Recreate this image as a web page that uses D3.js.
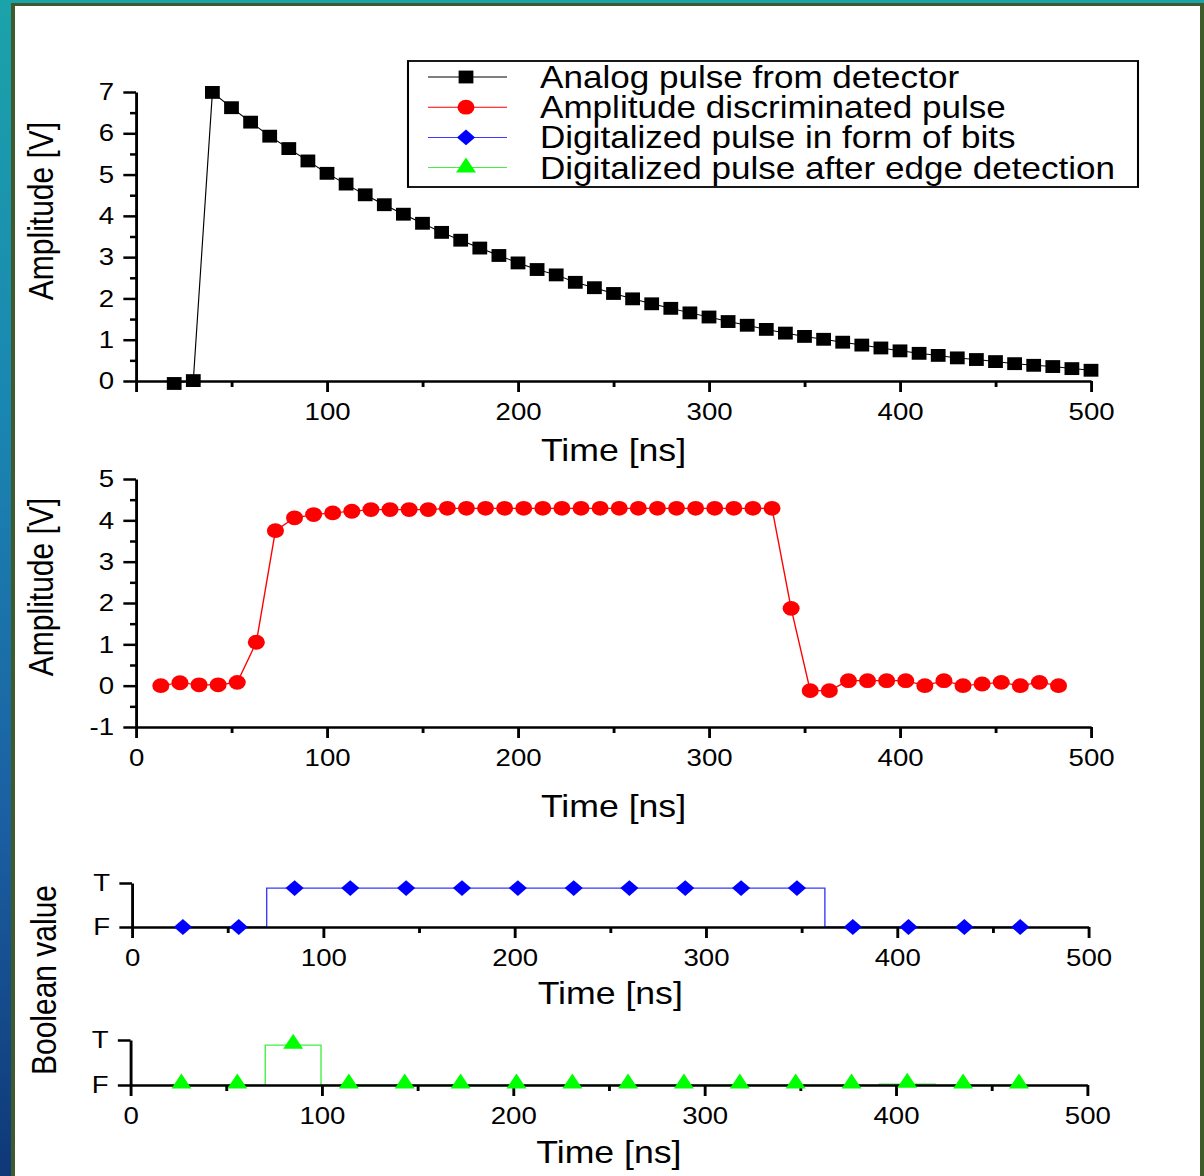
<!DOCTYPE html>
<html>
<head>
<meta charset="utf-8">
<script src="https://cdn.jsdelivr.net/npm/d3@7"></script>
<style>
  html, body { margin: 0; padding: 0; background: #fff; }
  svg { display: block; font-family: "Liberation Sans", Arial, sans-serif; }
</style>
</head>
<body>
<script>
// Data
const analogTime = [20, 30, 40, 50, 60, 70, 80, 90, 100, 110, 120, 130, 140, 150, 160, 170, 180, 190, 200,
  210, 220, 230, 240, 250, 260, 270, 280, 290, 300, 310, 320, 330, 340, 350, 360, 370, 380, 390, 400,
  410, 420, 430, 440, 450, 460, 470, 480, 490, 500];
const analogAmp = [-0.06, 0.01, 6.99, 6.62, 6.27, 5.93, 5.63, 5.33, 5.03, 4.77, 4.51, 4.27, 4.04, 3.82, 3.60, 3.41, 3.22, 3.04, 2.86,
  2.70, 2.57, 2.39, 2.26, 2.12, 1.99, 1.87, 1.76, 1.65, 1.55, 1.44, 1.35, 1.25, 1.16, 1.08, 1.01, 0.94, 0.87, 0.80, 0.73,
  0.67, 0.62, 0.56, 0.52, 0.47, 0.42, 0.38, 0.35, 0.30, 0.26];

const discTime = [13, 23, 33, 43, 53, 63, 73, 83, 93, 103, 113, 123, 133, 143, 153, 163, 173, 183, 193, 203,
  213, 223, 233, 243, 253, 263, 273, 283, 293, 303, 313, 323, 333, 343, 353, 363, 373, 383, 393, 403,
  413, 423, 433, 443, 453, 463, 473, 483];
const discAmp = [0.00, 0.07, 0.02, 0.02, 0.08, 1.05, 3.75, 4.06, 4.14, 4.18, 4.22, 4.26, 4.26, 4.26, 4.26, 4.29, 4.29, 4.29, 4.29, 4.29,
  4.29, 4.29, 4.29, 4.29, 4.29, 4.29, 4.29, 4.29, 4.29, 4.29, 4.29, 4.29, 4.29, 1.87, -0.12, -0.12, 0.12, 0.12, 0.12, 0.12,
  0.00, 0.12, 0.00, 0.04, 0.08, 0.00, 0.08, 0.00];

const bitTime = [26.6, 55.8, 85.0, 114.1, 143.3, 172.5, 201.7, 230.9, 260.0, 289.2, 318.4, 347.6, 376.8, 405.9, 435.1, 464.3];
const bitValue = [0, 0, 1, 1, 1, 1, 1, 1, 1, 1, 1, 1, 0, 0, 0, 0];
const edgeValue = [0, 0, 1, 0, 0, 0, 0, 0, 0, 0, 0, 0, 0, 0.02, 0, 0];

const timeMajor = [0, 100, 200, 300, 400, 500];
const timeMinor = [50, 150, 250, 350, 450];
const amp1Major = [0, 1, 2, 3, 4, 5, 6, 7];
const amp1Minor = [0.5, 1.5, 2.5, 3.5, 4.5, 5.5, 6.5];
const amp2Major = [-1, 0, 1, 2, 3, 4, 5];
const amp2Minor = [-0.5, 0.5, 1.5, 2.5, 3.5, 4.5];
const boolTicks = [0, 1.13];
const boolLabels = ['F', 'T'];

const legendLabels = [
  'Analog pulse from detector',
  'Amplitude discriminated pulse',
  'Digitalized pulse in form of bits',
  'Digitalized pulse after edge detection'
];

// The source figure is stretched horizontally; draw in a narrower space and scale x
const SX = 1.15;
const W = 1204, H = 1176;
const vx = r => r / SX;

const svg = d3.select('body').append('svg')
  .attr('width', W)
  .attr('height', H);

// Slide background + frame
const defs = svg.append('defs');
const grad = defs.append('linearGradient')
  .attr('id', 'bg')
  .attr('x1', 0).attr('y1', 0).attr('x2', 0).attr('y2', 1);
[['0%', '#1ba3aa'], ['35%', '#1a86b2'], ['70%', '#1b5fa2'], ['100%', '#0f3877']].forEach(([o, c]) => {
  grad.append('stop').attr('offset', o).attr('stop-color', c);
});
svg.append('rect').attr('width', W).attr('height', H).attr('fill', 'url(#bg)');
svg.append('rect').attr('x', 11).attr('y', 3).attr('width', W - 11).attr('height', H).attr('fill', '#3f5a2b');
svg.append('rect').attr('x', 15).attr('y', 6).attr('width', 1200 - 15).attr('height', H).attr('fill', '#ffffff');

const root = svg.append('g').attr('transform', `scale(${SX},1)`);

function styleAxis(g) {
  g.selectAll('path.domain').attr('stroke', '#000').attr('stroke-width', 2.5);
  g.selectAll('.tick line').attr('stroke', '#000').attr('stroke-width', 2.5);
  g.selectAll('.tick text').attr('fill', '#000').attr('font-size', '24px')
    .attr('font-family', '"Liberation Sans", Arial, sans-serif');
}

// Draws bottom + left axes and titles for one panel
function drawAxes(p) {
  const g = root.append('g');
  const y0 = p.y.range()[0];
  const x0 = p.x.range()[0];

  // minor x ticks
  g.append('g').attr('transform', `translate(0,${y0})`)
    .call(d3.axisBottom(p.x).tickValues(timeMinor).tickSize(6).tickSizeOuter(0).tickFormat(''))
    .call(a => a.select('.domain').remove())
    .call(styleAxis);
  // major x ticks
  g.append('g').attr('transform', `translate(0,${y0})`)
    .call(d3.axisBottom(p.x).tickValues(timeMajor).tickSize(11).tickSizeOuter(0).tickPadding(11)
      .tickFormat(d => (p.hideZero && d === 0) ? '' : d))
    .call(styleAxis);

  if (p.yMinor) {
    g.append('g').attr('transform', `translate(${x0},0)`)
      .call(d3.axisLeft(p.y).tickValues(p.yMinor).tickSize(5.2).tickSizeOuter(0).tickFormat(''))
      .call(a => a.select('.domain').remove())
      .call(styleAxis);
  }
  g.append('g').attr('transform', `translate(${x0},0)`)
    .call(d3.axisLeft(p.y).tickValues(p.yMajor).tickSize(11).tickSizeOuter(0).tickPadding(8)
      .tickFormat(p.yFormat || (d => d)))
    .call(styleAxis);

  g.append('text')
    .attr('x', (p.x.range()[0] + p.x.range()[1]) / 2)
    .attr('y', p.titleY)
    .attr('text-anchor', 'middle')
    .attr('font-size', '31px')
    .attr('fill', '#000')
    .text('Time [ns]');
}

function yTitle(text, cx, cy) {
  root.append('text')
    .attr('transform', `translate(${vx(cx)},${cy}) rotate(-90)`)
    .attr('dy', '0.35em')
    .attr('text-anchor', 'middle')
    .attr('font-size', '30px')
    .attr('fill', '#000')
    .text(text);
}

const sym = {
  square: d3.symbol().type(d3.symbolSquare).size(165)(),
  circle: d3.symbol().type(d3.symbolCircle).size(172)(),
  diamond: d3.symbol().type(d3.symbolSquare).size(125)(),
  triangle: d3.symbol().type(d3.symbolTriangle).size(130)()
};

// ---------- Panel 1: analog pulse ----------
const x1 = d3.scaleLinear().domain([0, 500]).range([vx(136), vx(1091)]);
const y1 = d3.scaleLinear().domain([0, 7]).range([381, 92]);
const analog = analogTime.map((t, i) => ({ t, v: analogAmp[i] }));

root.append('path').datum(analog)
  .attr('fill', 'none').attr('stroke', '#000').attr('stroke-width', 1)
  .attr('d', d3.line().x(d => x1(d.t)).y(d => y1(d.v)));
drawAxes({ x: x1, y: y1, yMajor: amp1Major, yMinor: amp1Minor, hideZero: true, titleY: 461 });
root.append('g').selectAll('path').data(analog).join('path')
  .attr('d', sym.square)
  .attr('transform', d => `translate(${x1(d.t)},${y1(d.v)})`)
  .attr('fill', '#000');
yTitle('Amplitude [V]', 41, 211);

// ---------- Panel 2: discriminated pulse ----------
const x2 = d3.scaleLinear().domain([0, 500]).range([vx(136), vx(1091)]);
const y2 = d3.scaleLinear().domain([-1, 5]).range([727, 479]);
const disc = discTime.map((t, i) => ({ t, v: discAmp[i] }));

root.append('path').datum(disc)
  .attr('fill', 'none').attr('stroke', '#ff0000').attr('stroke-width', 1.2)
  .attr('d', d3.line().x(d => x2(d.t)).y(d => y2(d.v)));
drawAxes({ x: x2, y: y2, yMajor: amp2Major, yMinor: amp2Minor, titleY: 817 });
root.append('g').selectAll('path').data(disc).join('path')
  .attr('d', sym.circle)
  .attr('transform', d => `translate(${x2(d.t)},${y2(d.v)})`)
  .attr('fill', '#ff0000');
yTitle('Amplitude [V]', 41, 587);

// ---------- Panel 3: bits ----------
const x3 = d3.scaleLinear().domain([0, 500]).range([vx(132), vx(1088.5)]);
const y3 = d3.scaleLinear().domain([0, 1.13]).range([927, 883]);
const bits = bitTime.map((t, i) => ({ t, v: bitValue[i] }));

root.append('path').datum(bits)
  .attr('fill', 'none').attr('stroke', '#3a3aff').attr('stroke-width', 1.2)
  .attr('d', d3.line().curve(d3.curveStep).x(d => x3(d.t)).y(d => y3(d.v)));
drawAxes({ x: x3, y: y3, yMajor: boolTicks, yFormat: d => boolLabels[boolTicks.indexOf(d)], titleY: 1004 });
root.append('g').selectAll('path').data(bits).join('path')
  .attr('d', sym.diamond)
  .attr('transform', d => `translate(${x3(d.t)},${y3(d.v)}) rotate(45)`)
  .attr('fill', '#0000ff');

// ---------- Panel 4: edge detection ----------
const x4 = d3.scaleLinear().domain([0, 500]).range([vx(130.5), vx(1087.3)]);
const y4 = d3.scaleLinear().domain([0, 1.13]).range([1085, 1040]);
const edges = bitTime.map((t, i) => ({ t, v: edgeValue[i] }));

root.append('path').datum(edges)
  .attr('fill', 'none').attr('stroke', '#44ee44').attr('stroke-width', 1.2)
  .attr('d', d3.line().curve(d3.curveStep).x(d => x4(d.t)).y(d => y4(d.v)));
drawAxes({ x: x4, y: y4, yMajor: boolTicks, yFormat: d => boolLabels[boolTicks.indexOf(d)], titleY: 1163 });
root.append('g').selectAll('path').data(edges).join('path')
  .attr('d', sym.triangle)
  .attr('transform', d => `translate(${x4(d.t)},${y4(d.v) - 1.5})`)
  .attr('fill', '#00ff00');

yTitle('Boolean value', 44, 980);

// ---------- Legend ----------
const legendColors = ['#000000', '#ff0000', '#0000ff', '#00ff00'];
const legendLine = ['#000000', '#ff0000', '#3a3aff', '#44ee44'];
const legendShapes = ['square', 'circle', 'diamond', 'triangle'];
const lg = root.append('g');
lg.append('rect')
  .attr('x', vx(408)).attr('y', 61)
  .attr('width', vx(1138 - 408)).attr('height', 126)
  .attr('fill', '#fff').attr('stroke', '#000').attr('stroke-width', 1.8);
legendLabels.forEach((label, i) => {
  const cy = 77 + i * 30.2;
  lg.append('line')
    .attr('x1', vx(428)).attr('x2', vx(507))
    .attr('y1', cy).attr('y2', cy)
    .attr('stroke', legendLine[i]).attr('stroke-width', 1);
  lg.append('path')
    .attr('d', sym[legendShapes[i]])
    .attr('transform', `translate(${vx(466)},${cy})` + (legendShapes[i] === 'diamond' ? ' rotate(45)' : ''))
    .attr('fill', legendColors[i]);
  lg.append('text')
    .attr('x', vx(540)).attr('y', cy + 11)
    .attr('font-size', '30.5px')
    .attr('fill', '#000')
    .text(label);
});
</script>
</body>
</html>
